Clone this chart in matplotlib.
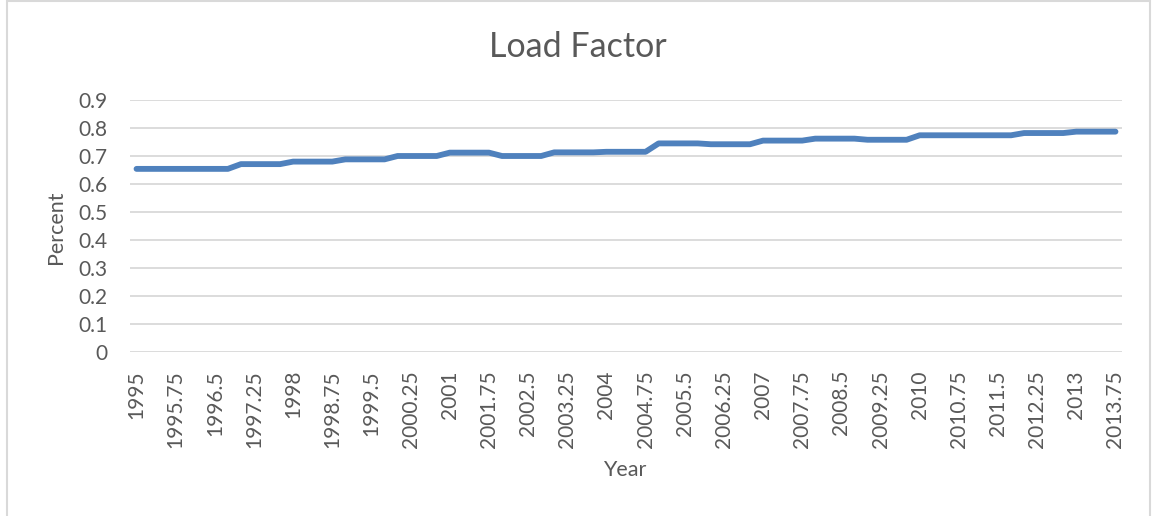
import numpy as np
import matplotlib.pyplot as plt
from matplotlib.patches import Rectangle

# quarterly load factor, 1995 Q1 .. 2013 Q4
quarters = [1995 + 0.25 * i for i in range(76)]
load_factor = [
    0.654, 0.654, 0.654, 0.654,  # 1995
    0.654, 0.654, 0.654, 0.654,  # 1996
    0.671, 0.671, 0.671, 0.671,  # 1997
    0.680, 0.680, 0.680, 0.680,  # 1998
    0.688, 0.688, 0.688, 0.688,  # 1999
    0.700, 0.700, 0.700, 0.700,  # 2000
    0.712, 0.712, 0.712, 0.712,  # 2001
    0.700, 0.700, 0.700, 0.700,  # 2002
    0.713, 0.713, 0.713, 0.713,  # 2003
    0.715, 0.715, 0.715, 0.715,  # 2004
    0.745, 0.745, 0.745, 0.745,  # 2005
    0.742, 0.742, 0.742, 0.742,  # 2006
    0.755, 0.755, 0.755, 0.755,  # 2007
    0.762, 0.762, 0.762, 0.762,  # 2008
    0.758, 0.758, 0.758, 0.758,  # 2009
    0.774, 0.774, 0.774, 0.774,  # 2010
    0.774, 0.774, 0.774, 0.774,  # 2011
    0.782, 0.782, 0.782, 0.782,  # 2012
    0.787, 0.787, 0.787, 0.787,  # 2013
]
y_ticks = [0, 0.1, 0.2, 0.3, 0.4, 0.5, 0.6, 0.7, 0.8, 0.9]

text_color = "#595959"
grid_color = "#D9D9D9"
plt.rcParams["font.family"] = ["Lato", "DejaVu Sans"]

if __name__ == "__main__":
    fig = plt.figure(figsize=(11.52, 5.16), dpi=100)
    ax = fig.add_axes([130 / 1152, 1 - 352 / 516, 992 / 1152, 252 / 516])

    # chart frame
    fig.patches.append(Rectangle((7 / 1152, -0.05), 1143 / 1152, 1.048,
                                 transform=fig.transFigure, fill=False,
                                 edgecolor=grid_color, linewidth=1.5))

    pos = np.arange(len(quarters))
    ax.plot(pos, load_factor, color="#4F81BD", linewidth=4.2,
            solid_capstyle="round", solid_joinstyle="round", zorder=3)

    ax.set_xlim(-0.5, len(quarters) - 0.5)
    ax.set_ylim(0, 0.9)
    ax.set_yticks(y_ticks)
    ax.set_yticklabels([("%g" % v) for v in y_ticks])
    ax.set_xticks(pos[::3])
    ax.set_xticklabels([("%g" % q) for q in quarters[::3]], rotation=90)

    ax.grid(axis="y", color=grid_color, linewidth=1.3)
    ax.set_axisbelow(True)
    for s in ax.spines.values():
        s.set_visible(False)
    ax.tick_params(axis="both", length=0, labelsize=15, labelcolor=text_color)
    ax.tick_params(axis="y", pad=16)
    ax.tick_params(axis="x", pad=13)

    fig.text(578 / 1152, 1 - 47 / 516, "Load Factor", ha="center", va="center",
             fontsize=24.5, color=text_color)
    fig.text(56 / 1152, 1 - 227 / 516, "Percent", ha="center", va="center",
             rotation=90, fontsize=15.5, color=text_color)
    fig.text(625 / 1152, 1 - 470 / 516, "Year", ha="center", va="center",
             fontsize=15.5, color=text_color)

    fig.savefig("out.png", dpi=100)
